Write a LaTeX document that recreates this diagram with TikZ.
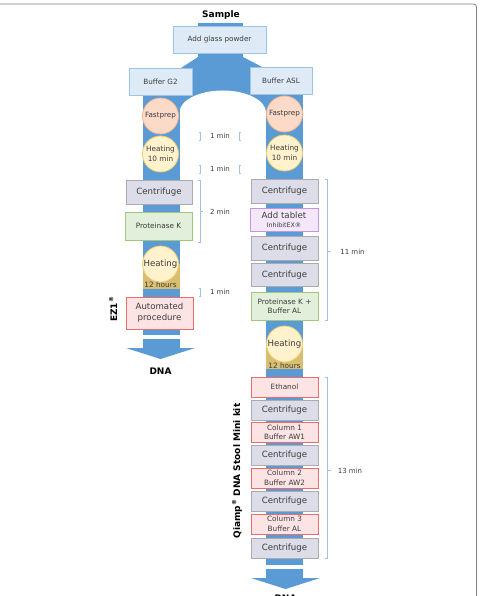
\documentclass[tikz,border=0pt]{standalone}
\usepackage{fontspec}
\setmainfont{DejaVu Sans}
\definecolor{flow}{RGB}{91,155,213}
\definecolor{lbfill}{RGB}{222,235,247}
\definecolor{lbline}{RGB}{157,195,230}
\definecolor{cfill}{RGB}{221,221,233}
\definecolor{cline}{RGB}{170,170,175}
\definecolor{gfill}{RGB}{226,239,218}
\definecolor{gline}{RGB}{160,200,130}
\definecolor{pfill}{RGB}{252,228,228}
\definecolor{pline}{RGB}{232,110,110}
\definecolor{vfill}{RGB}{243,231,249}
\definecolor{vline}{RGB}{195,150,222}
\definecolor{ffill}{RGB}{251,218,200}
\definecolor{fline}{RGB}{244,180,140}
\definecolor{hfill}{RGB}{255,242,204}
\definecolor{hline}{RGB}{240,205,110}
\definecolor{hours}{RGB}{216,190,112}
\definecolor{txt}{RGB}{60,60,60}
\definecolor{brc}{RGB}{160,195,230}
\definecolor{frame}{RGB}{128,128,128}
\begin{document}
\begin{tikzpicture}[x=1pt,y=-1pt,
  box/.style={draw, line width=0.8pt, inner sep=0pt, align=center, text=txt, minimum width=67pt},
  bluebox/.style={box, fill=lbfill, draw=lbline, minimum height=27pt, font=\fontsize{7.2}{8}\selectfont},
  cfg/.style={box, fill=cfill, draw=cline, font=\fontsize{8.6}{10}\selectfont},
  grn/.style={box, fill=gfill, draw=gline, font=\fontsize{7.3}{9}\selectfont},
  pnk/.style={box, fill=pfill, draw=pline, font=\fontsize{7.3}{9.5}\selectfont},
  vio/.style={box, fill=vfill, draw=vline, font=\fontsize{8.6}{9}\selectfont},
  fast/.style={circle, draw=fline, fill=ffill, line width=0.8pt, minimum size=36pt, inner sep=0pt, text=txt, font=\fontsize{7.2}{8}\selectfont},
  heat/.style={circle, draw=hline, fill=hfill, line width=0.8pt, minimum size=36pt, inner sep=0pt, text=txt, align=center, font=\fontsize{7.3}{10.5}\selectfont},
  heatbig/.style={heat, font=\fontsize{8.6}{10}\selectfont},
  hrs/.style={text=txt, inner sep=0pt, font=\fontsize{7.3}{8}\selectfont},
  tlabel/.style={text=txt, inner sep=0pt, font=\fontsize{7}{8}\selectfont},
  title/.style={inner sep=0pt, font=\fontsize{9}{10}\selectfont\bfseries},
  brk/.style={draw=brc, line width=0.6pt}
]
\useasboundingbox (0,0) rectangle (479,596);
\clip (0,0) rectangle (479,596);
% frame
\draw[frame, line width=0.8pt, rounded corners=3pt] (-5,4) rectangle (476.5,620);

% blue flow shape
\fill[flow] (198,23) rectangle (243,58);
\fill[flow] (198,57) -- (243,57) -- (264,68) -- (181,68) -- cycle;
\fill[flow] (143,68) rectangle (303,112);
\fill[white] (179.5,112.5) arc[start angle=180, end angle=360, x radius=43.25, y radius=22] -- cycle;
\fill[flow] (143,68) rectangle (179.5,335);
\fill[flow] (266,68) rectangle (303,565);
% heating 12 hours patches
\fill[hours] (143,264) rectangle (179.5,289);
\fill[hours] (266,344) rectangle (303,369);
% arrows
\fill[flow] (143,339) rectangle (179.5,348);
\fill[flow] (126,348) -- (195,348) -- (160.5,359) -- cycle;
\fill[flow] (266,569) rectangle (303,578);
\fill[flow] (251,578) -- (320,578) -- (285.5,589) -- cycle;

% titles
\node[title] (sample) at (221,15) {Sample};
\node[title] (dnaL) at (160.5,371) {DNA};
\node[title] (dnaR) at (285.5,598) {DNA};
\node[title, rotate=90] (ez1) at (113,309) {EZ1\textsuperscript{®}};
\node[title, rotate=90] (qiamp) at (237,471) {Qiamp\textsuperscript{®} DNA Stool Mini kit};

% top
\node[bluebox, minimum width=93pt] (glass) at (219.5,39.5) {Add glass powder};
\node[bluebox, minimum width=63pt] (g2) at (160.5,81.5) {Buffer G2};
\node[bluebox, minimum width=62pt] (asl) at (281,81) {Buffer ASL};

% left column
\node[fast] (fastL) at (160.5,116) {Fastprep};
\node[heat] (heatL) at (160.5,154) {Heating\\10 min};
\node[cfg, minimum height=24pt, minimum width=66pt] (cL) at (159,192) {Centrifuge};
\node[grn, minimum height=28pt] (pkL) at (158.5,226) {Proteinase K};
\node[heatbig] (heat12L) at (160.5,264) {Heating};
\node[hrs] (hrsL) at (160.5,285) {12 hours};
\node[pnk, minimum height=32pt, font=\fontsize{8.6}{11}\selectfont] (autoL) at (159.5,313) {Automated\\procedure};

% right column
\node[fast] (fastR) at (284.5,114) {Fastprep};
\node[heat] (heatR) at (284.5,153) {Heating\\10 min};
\node[cfg, minimum height=24pt] (c1) at (284.5,191.5) {Centrifuge};
\node[vio, minimum height=23.5pt, minimum width=68pt] (tab) at (284,220) {Add tablet\\{\fontsize{6.3}{7}\selectfont InhibitEX®}};
\node[cfg, minimum height=24pt] (c2) at (284.5,248) {Centrifuge};
\node[cfg, minimum height=23pt] (c3) at (284.5,275) {Centrifuge};
\node[grn, minimum height=28pt] (pkR) at (284.5,306) {Proteinase K +\\Buffer AL};
\node[heatbig] (heat12R) at (284.5,344) {Heating};
\node[hrs] (hrsR) at (284.5,366) {12 hours};
\node[pnk, minimum height=20pt] (eth) at (284.5,387) {Ethanol};
\node[cfg, minimum height=20pt] (c4) at (284.5,410) {Centrifuge};
\node[pnk, minimum height=20pt] (col1) at (284.5,432.5) {Column 1\\Buffer AW1};
\node[cfg, minimum height=20pt] (c5) at (284.5,455) {Centrifuge};
\node[pnk, minimum height=20pt] (col2) at (284.5,478) {Column 2\\Buffer AW2};
\node[cfg, minimum height=20pt] (c6) at (284.5,501) {Centrifuge};
\node[pnk, minimum height=20pt] (col3) at (284.5,524) {Column 3\\Buffer AL};
\node[cfg, minimum height=20pt] (c7) at (284.5,548) {Centrifuge};

% time brackets
\draw[brk] (198.5,132) -- (200.5,132) -- (200.5,140) -- (198.5,140);
\draw[brk] (241,132) -- (239,132) -- (239,140) -- (241,140);
\node[tlabel] (t1) at (220,136) {1 min};
\draw[brk] (198.5,165) -- (200.5,165) -- (200.5,173) -- (198.5,173);
\draw[brk] (241,165) -- (239,165) -- (239,173) -- (241,173);
\node[tlabel] (t2) at (220,169) {1 min};
\draw[brk] (197.5,180) -- (200.5,180) -- (200.5,242) -- (197.5,242);
\draw[brk] (200.5,211) -- (203,211);
\node[tlabel] (t3) at (220,212) {2 min};
\draw[brk] (198.5,288) -- (200.5,288) -- (200.5,296) -- (198.5,296);
\node[tlabel] (t4) at (220,292) {1 min};
\draw[brk] (324.5,179) -- (327.5,179) -- (327.5,320) -- (324.5,320);
\draw[brk] (327.5,251) -- (330.5,251);
\node[tlabel] (t5) at (352.5,252) {11 min};
\draw[brk] (324.5,377) -- (327.5,377) -- (327.5,558) -- (324.5,558);
\draw[brk] (327.5,470) -- (330.5,470);
\node[tlabel] (t6) at (350,471) {13 min};
\end{tikzpicture}
\end{document}
